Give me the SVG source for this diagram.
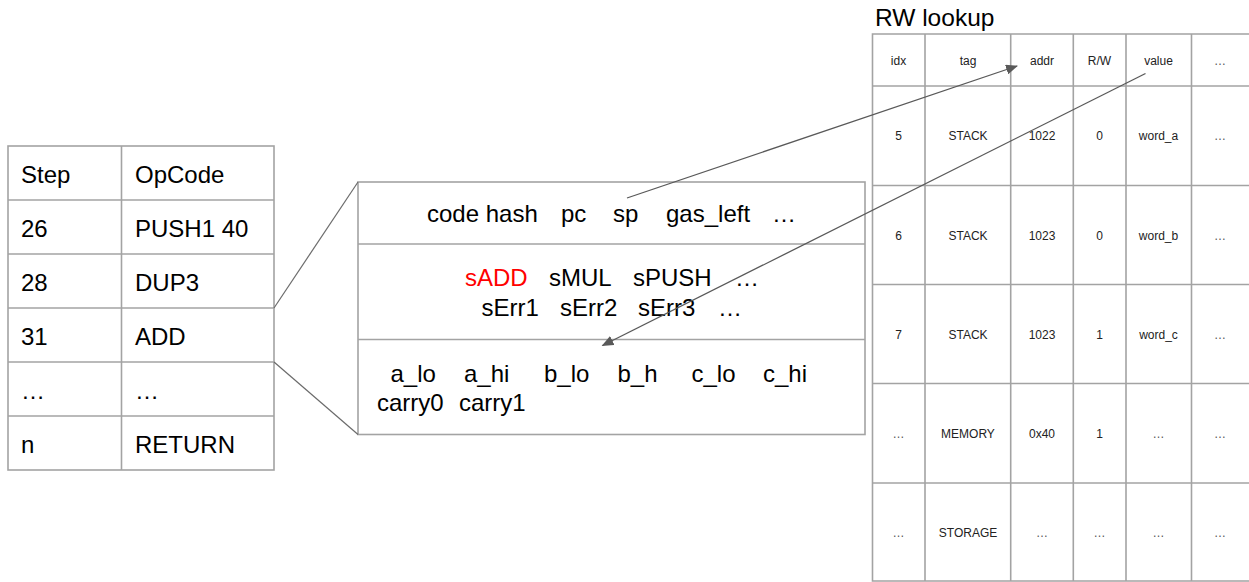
<svg xmlns="http://www.w3.org/2000/svg" width="1249" height="582" viewBox="0 0 1249 582">
  <style>
    .grid { fill: none; stroke: #a3a3a3; stroke-width: 1.6; }
    .zoom { fill: none; stroke: #6b6b6b; stroke-width: 1.2; }
    .link { fill: none; stroke: #595959; stroke-width: 1.3; }
    .big { font-family: "Liberation Sans", Arial, sans-serif; font-size: 24px; fill: #000; }
    .title { font-size: 24.5px; }
    .small { font-family: "Liberation Sans", Arial, sans-serif; font-size: 12px; fill: #222; text-anchor: middle; }
    .dim { fill: #555; }
    .red { fill: #ff0000; }
  </style>
  <defs>
    <marker id="arrow" viewBox="0 0 12 10" refX="11" refY="5" markerWidth="12" markerHeight="10" markerUnits="userSpaceOnUse" orient="auto">
      <path d="M0,0 L12,5 L0,10 Z" fill="#595959"/>
    </marker>
  </defs>

  <rect width="1249" height="582" fill="#ffffff"/>

  <!-- execution trace table -->
  <g id="trace-table">
    <rect class="grid" x="8" y="146" width="266" height="324"/>
    <line class="grid" x1="121.5" y1="146" x2="121.5" y2="470"/>
    <line class="grid" x1="8" y1="200" x2="274" y2="200"/>
    <line class="grid" x1="8" y1="254" x2="274" y2="254"/>
    <line class="grid" x1="8" y1="308" x2="274" y2="308"/>
    <line class="grid" x1="8" y1="362" x2="274" y2="362"/>
    <line class="grid" x1="8" y1="416" x2="274" y2="416"/>
    <text class="big" x="21" y="182.5">Step</text>
    <text class="big" x="135" y="182.5">OpCode</text>
    <text class="big" x="21" y="236.5">26</text>
    <text class="big" x="135" y="236.5">PUSH1 40</text>
    <text class="big" x="21" y="290.5">28</text>
    <text class="big" x="135" y="290.5">DUP3</text>
    <text class="big" x="21" y="344.5">31</text>
    <text class="big" x="135" y="344.5">ADD</text>
    <text class="big" x="21" y="398.5">…</text>
    <text class="big" x="135" y="398.5">…</text>
    <text class="big" x="21" y="452.5">n</text>
    <text class="big" x="135" y="452.5">RETURN</text>
  </g>

  <!-- expanded step state -->
  <g id="step-detail">
    <rect class="grid" x="358" y="182" width="507" height="252.5"/>
    <line class="grid" x1="358" y1="244" x2="865" y2="244"/>
    <line class="grid" x1="358" y1="339.5" x2="865" y2="339.5"/>
    <text class="big" x="427" y="222">code hash</text>
    <text class="big" x="561" y="222">pc</text>
    <text class="big" x="613" y="222">sp</text>
    <text class="big" x="666" y="222">gas_left</text>
    <text class="big" x="772" y="222">…</text>
    <text class="big red" x="465" y="286">sADD</text>
    <text class="big" x="549" y="286">sMUL</text>
    <text class="big" x="633" y="286">sPUSH</text>
    <text class="big" x="735" y="286">…</text>
    <text class="big" x="481.5" y="315.5">sErr1</text>
    <text class="big" x="560" y="315.5">sErr2</text>
    <text class="big" x="638" y="315.5">sErr3</text>
    <text class="big" x="718" y="315.5">…</text>
    <text class="big" x="390.5" y="381.5">a_lo</text>
    <text class="big" x="464" y="381.5">a_hi</text>
    <text class="big" x="544" y="381.5">b_lo</text>
    <text class="big" x="617.5" y="381.5">b_h</text>
    <text class="big" x="691.5" y="381.5">c_lo</text>
    <text class="big" x="763" y="381.5">c_hi</text>
    <text class="big" x="377" y="410.5">carry0</text>
    <text class="big" x="459" y="410.5">carry1</text>
  </g>

  <!-- read/write lookup table -->
  <g id="rw-lookup">
    <text class="big title" x="875" y="25.5">RW lookup</text>
    <path class="grid" d="M1260,34 H872.5 V581 H1260"/>
    <line class="grid" x1="925" y1="34" x2="925" y2="581"/>
    <line class="grid" x1="1010.7" y1="34" x2="1010.7" y2="581"/>
    <line class="grid" x1="1073.3" y1="34" x2="1073.3" y2="581"/>
    <line class="grid" x1="1126" y1="34" x2="1126" y2="581"/>
    <line class="grid" x1="1191.5" y1="34" x2="1191.5" y2="581"/>
    <line class="grid" x1="872.5" y1="86" x2="1260" y2="86"/>
    <line class="grid" x1="872.5" y1="185.5" x2="1260" y2="185.5"/>
    <line class="grid" x1="872.5" y1="284.5" x2="1260" y2="284.5"/>
    <line class="grid" x1="872.5" y1="383.5" x2="1260" y2="383.5"/>
    <line class="grid" x1="872.5" y1="483" x2="1260" y2="483"/>

    <text class="small" x="898.5" y="64.5">idx</text>
    <text class="small" x="968" y="64.5">tag</text>
    <text class="small" x="1042" y="64.5">addr</text>
    <text class="small" x="1099.5" y="64.5">R/W</text>
    <text class="small" x="1158.5" y="64.5">value</text>
    <text class="small dim" x="1220" y="64.5">…</text>

    <text class="small" x="898.5" y="140">5</text>
    <text class="small" x="968" y="140">STACK</text>
    <text class="small" x="1042" y="140">1022</text>
    <text class="small" x="1099.5" y="140">0</text>
    <text class="small" x="1158.5" y="140">word_a</text>
    <text class="small dim" x="1220" y="140">…</text>

    <text class="small" x="898.5" y="239.5">6</text>
    <text class="small" x="968" y="239.5">STACK</text>
    <text class="small" x="1042" y="239.5">1023</text>
    <text class="small" x="1099.5" y="239.5">0</text>
    <text class="small" x="1158.5" y="239.5">word_b</text>
    <text class="small dim" x="1220" y="239.5">…</text>

    <text class="small" x="898.5" y="339">7</text>
    <text class="small" x="968" y="339">STACK</text>
    <text class="small" x="1042" y="339">1023</text>
    <text class="small" x="1099.5" y="339">1</text>
    <text class="small" x="1158.5" y="339">word_c</text>
    <text class="small dim" x="1220" y="339">…</text>

    <text class="small dim" x="898.5" y="438">…</text>
    <text class="small" x="968" y="438">MEMORY</text>
    <text class="small" x="1042" y="438">0x40</text>
    <text class="small" x="1099.5" y="438">1</text>
    <text class="small dim" x="1158.5" y="438">…</text>
    <text class="small dim" x="1220" y="438">…</text>

    <text class="small dim" x="898.5" y="537">…</text>
    <text class="small" x="968" y="537">STORAGE</text>
    <text class="small dim" x="1042" y="537">…</text>
    <text class="small dim" x="1099.5" y="537">…</text>
    <text class="small dim" x="1158.5" y="537">…</text>
    <text class="small dim" x="1220" y="537">…</text>
  </g>

  <!-- connectors -->
  <g id="connectors">
    <line class="zoom" x1="274" y1="308" x2="358" y2="182"/>
    <line class="zoom" x1="274" y1="362" x2="358" y2="434.5"/>
    <line class="link" x1="627" y1="198" x2="1017" y2="66" marker-end="url(#arrow)"/>
    <line class="link" x1="1145.5" y1="73.5" x2="602.5" y2="345.5" marker-end="url(#arrow)"/>
  </g>
</svg>
